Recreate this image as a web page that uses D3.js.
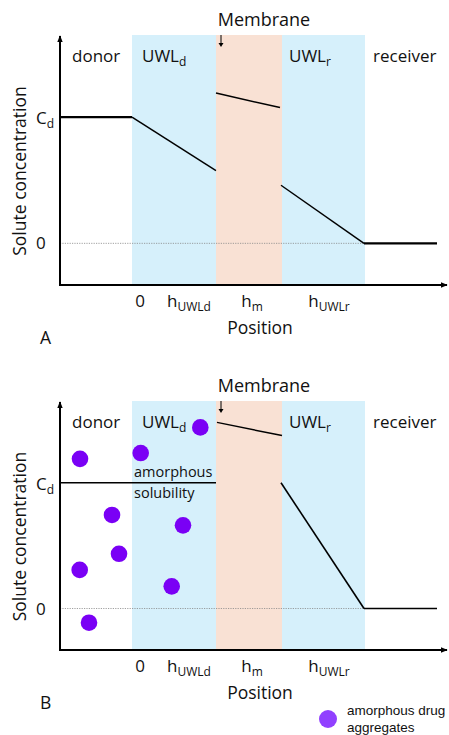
<!DOCTYPE html>
<html>
<head>
<meta charset="utf-8">
<script src="https://cdn.jsdelivr.net/npm/d3@7"></script>
<style>
  html, body { margin: 0; padding: 0; background: #fff; }
  svg { display: block; }
  text { font-family: "Open Sans", sans-serif; fill: #111; }
</style>
</head>
<body>
<svg id="chart" width="449" height="735"></svg>
<script>
// ---------- data ----------
// positions (x units, 0 = start of donor unstirred water layer)
const regionNames = ["donor", "UWLd", "membrane", "UWLr", "receiver"];
const regionBounds = [-72, 0, 84, 150, 233, 305];   // start/end of each region
const axisExtent = [-72, 315];
const tickPositions = [8, 57, 120, 197];
const tickMain = ["0", "h", "h", "h"];
const tickSub = ["", "UWLd", "m", "UWLr"];
// concentration (1 = Cd)
const yDomain = [-0.33, 1.65];

// Panel A concentration profile segments
const profileA = [
  [[-72, 1.0], [0, 1.0]],
  [[0, 1.0], [84, 0.575]],
  [[84, 1.19], [148, 1.075]],
  [[149, 0.46], [232, 0.0]],
  [[232, 0.0], [305, 0.0]]
];
const profileAWidth = [2.3, 1.5, 1.5, 1.5, 2.3];

// Panel B concentration profile segments
const profileB = [
  [[-72, 1.0], [84, 1.0]],
  [[85, 1.48], [150, 1.375]],
  [[149, 1.0], [232, 0.0]],
  [[232, 0.0], [305, 0.0]]
];
const profileBWidth = [1.5, 1.5, 1.6, 1.5];

// amorphous drug aggregates (x, concentration)
const aggX = [-52, 8.7, 68.3, -20, 51, -13, -52.3, 39.7, -43];
const aggY = [1.19, 1.236, 1.44, 0.744, 0.661, 0.435, 0.307, 0.176, -0.113];

// ---------- drawing ----------
const svg = d3.select("#chart");
const x = d3.scaleLinear().domain(axisExtent).range([60, 447]);
const regionColors = ["none", "#d6f0fb", "#f9e1d4", "#d6f0fb", "none"];

const defs = svg.append("defs");
defs.append("marker").attr("id", "arr").attr("viewBox", "0 0 10 10")
  .attr("refX", 9).attr("refY", 5).attr("markerWidth", 7).attr("markerHeight", 7)
  .attr("markerUnits", "userSpaceOnUse").attr("orient", "auto")
  .append("path").attr("d", "M0,1 L10,5 L0,9 Z").attr("fill", "#000");

function panel(cfg) {
  const g = svg.append("g");
  const y = d3.scaleLinear().domain(yDomain).range([cfg.bottom, cfg.top]);

  // region bands
  regionNames.forEach((r, i) => {
    if (regionColors[i] === "none") return;
    g.append("rect")
      .attr("x", x(regionBounds[i])).attr("y", y(yDomain[1]))
      .attr("width", x(regionBounds[i + 1]) - x(regionBounds[i]))
      .attr("height", y(yDomain[0]) - y(yDomain[1]))
      .attr("fill", regionColors[i]);
  });

  // dotted zero line
  g.append("line")
    .attr("x1", x(axisExtent[0])).attr("x2", x(regionBounds[4]))
    .attr("y1", y(0)).attr("y2", y(0))
    .attr("stroke", "#888").attr("stroke-width", 0.8).attr("stroke-dasharray", "1.2,1.2");

  // aggregates
  if (cfg.aggX) {
    g.selectAll("circle.agg").data(cfg.aggX).enter().append("circle")
      .attr("class", "agg")
      .attr("cx", d => x(d)).attr("cy", (d, i) => y(cfg.aggY[i]))
      .attr("r", 8.3).attr("fill", "#7a00f5");
  }

  // profile
  const line = d3.line().x(d => x(d[0])).y(d => y(d[1]));
  cfg.profile.forEach((seg, i) => {
    g.append("path").attr("d", line(seg)).attr("fill", "none")
      .attr("stroke", "#000").attr("stroke-width", cfg.widths[i]);
  });

  // axes
  g.append("line").attr("x1", x(axisExtent[0])).attr("x2", x(axisExtent[0]))
    .attr("y1", y(yDomain[0])).attr("y2", y(yDomain[1]) + 1)
    .attr("stroke", "#000").attr("stroke-width", 2).attr("marker-end", "url(#arr)");
  g.append("line").attr("x1", x(axisExtent[0]) - 1).attr("x2", x(axisExtent[1]))
    .attr("y1", y(yDomain[0])).attr("y2", y(yDomain[0]))
    .attr("stroke", "#000").attr("stroke-width", 2).attr("marker-end", "url(#arr)");

  // y tick labels
  const cd = g.append("text").attr("x", 36).attr("y", y(1) + 7).attr("font-size", 17);
  cd.append("tspan").text("C");
  cd.append("tspan").text("d").attr("font-size", 12).attr("dy", 4);
  g.append("text").attr("x", 36).attr("y", y(0) + 6).attr("font-size", 17).text("0");

  // y title
  g.append("text")
    .attr("transform", `translate(26,${(cfg.top + cfg.bottom) / 2 + 11}) rotate(-90)`)
    .attr("text-anchor", "middle").attr("font-size", 17.5)
    .text("Solute concentration");

  // x tick labels
  tickPositions.forEach((p, i) => {
    const t = g.append("text").attr("x", x(p)).attr("y", cfg.bottom + 22)
      .attr("text-anchor", "middle").attr("font-size", 17);
    t.append("tspan").text(tickMain[i]);
    if (tickSub[i]) t.append("tspan").text(tickSub[i]).attr("font-size", 12).attr("dy", 3.5);
  });
  g.append("text").attr("x", 260).attr("y", cfg.bottom + 49)
    .attr("text-anchor", "middle").attr("font-size", 17.5).text("Position");
  g.append("text").attr("x", 40).attr("y", cfg.bottom + 59)
    .attr("font-size", 17.5).text(cfg.letter);

  // region labels
  const ly = cfg.top + 27;
  g.append("text").attr("x", 72).attr("y", ly).attr("font-size", 17).text("donor");
  const u1 = g.append("text").attr("x", 142).attr("y", ly).attr("font-size", 17);
  u1.append("tspan").text("UWL");
  u1.append("tspan").text("d").attr("font-size", 12).attr("dy", 4);
  const u2 = g.append("text").attr("x", 289).attr("y", ly).attr("font-size", 17);
  u2.append("tspan").text("UWL");
  u2.append("tspan").text("r").attr("font-size", 12).attr("dy", 4);
  g.append("text").attr("x", 373).attr("y", ly).attr("font-size", 17).text("receiver");

  // membrane label + arrow
  g.append("text").attr("x", 264).attr("y", cfg.top - 9).attr("text-anchor", "middle")
    .attr("font-size", 18).text("Membrane");
  g.append("line").attr("x1", 221).attr("x2", 221)
    .attr("y1", cfg.top).attr("y2", cfg.top + 10)
    .attr("stroke", "#000").attr("stroke-width", 1);
  g.append("path").attr("d", `M218.5,${cfg.top + 8} L221,${cfg.top + 12} L223.5,${cfg.top + 8} Z`)
    .attr("fill", "#000");

  if (cfg.letter === "B") {
    g.append("text").attr("x", 134).attr("y", y(1) - 6).attr("font-size", 14.5).text("amorphous");
    g.append("text").attr("x", 134).attr("y", y(1) + 15).attr("font-size", 14.5).text("solubility");
  }
  return g;
}

panel({ top: 35, bottom: 285, profile: profileA, widths: profileAWidth, letter: "A" });
panel({ top: 401, bottom: 650, profile: profileB, widths: profileBWidth, letter: "B",
        aggX: aggX, aggY: aggY });

// legend
svg.append("circle").attr("cx", 328).attr("cy", 719).attr("r", 9).attr("fill", "#9140ff");
svg.append("text").attr("x", 347).attr("y", 715).attr("font-size", 13.5)
  .style("font-family", "'Liberation Sans', Arial, sans-serif").text("amorphous drug");
svg.append("text").attr("x", 347).attr("y", 732).attr("font-size", 13.5)
  .style("font-family", "'Liberation Sans', Arial, sans-serif").text("aggregates");
</script>
</body>
</html>
